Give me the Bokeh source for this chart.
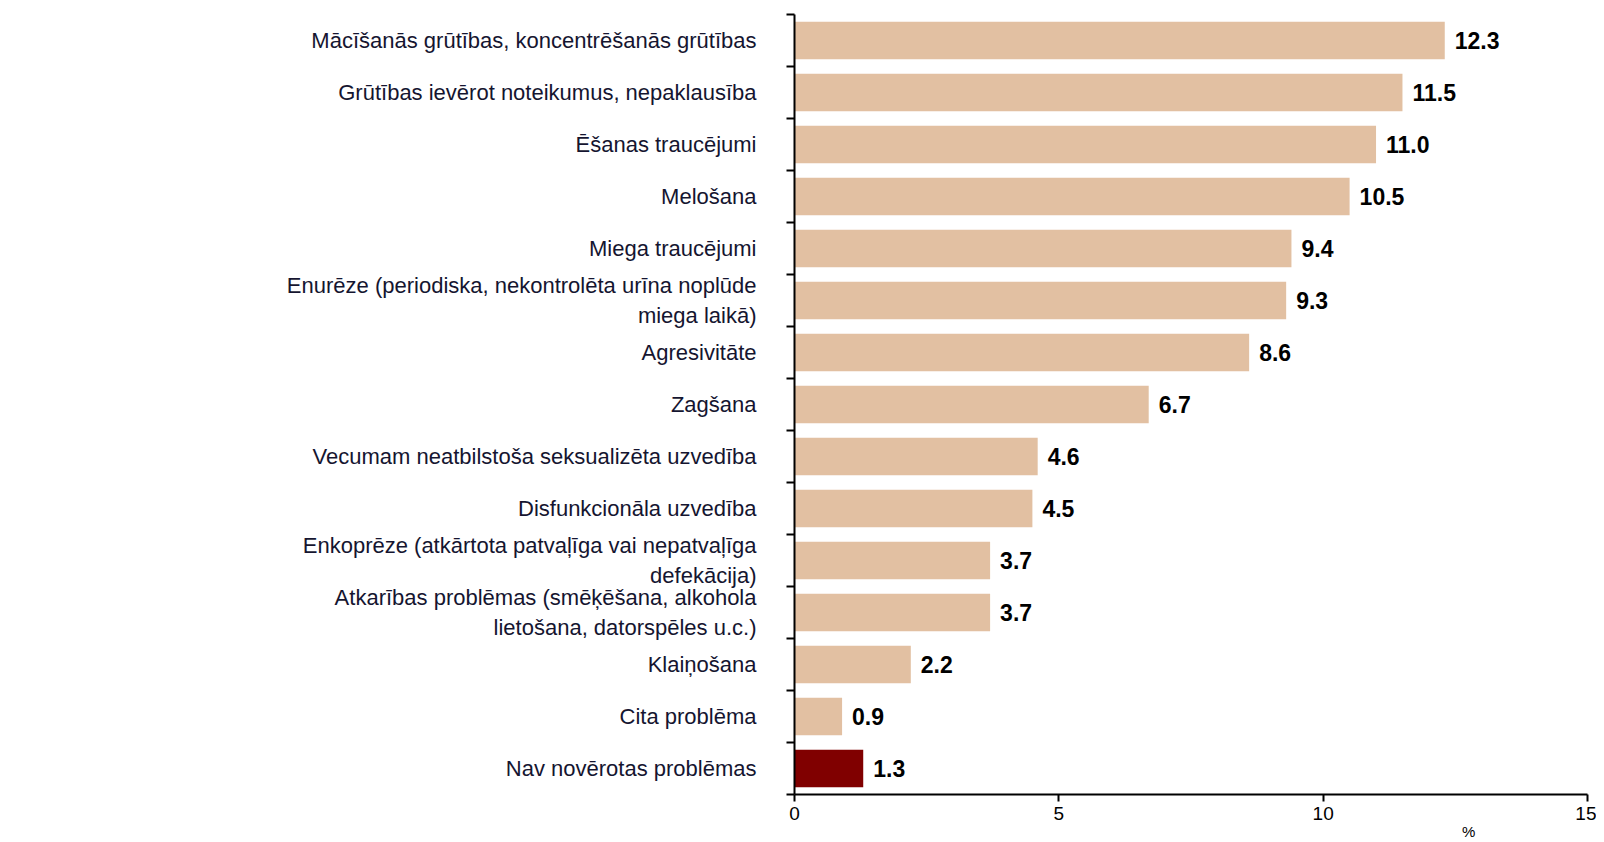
from bokeh.plotting import figure
from bokeh.models import Range1d, FixedTicker, LinearAxis, ColumnDataSource
from bokeh.core.properties import value
from bokeh.embed import file_html
from bokeh.resources import INLINE

categories = [
    "Mācīšanās grūtības, koncentrēšanās grūtības",
    "Grūtības ievērot noteikumus, nepaklausība",
    "Ēšanas traucējumi",
    "Melošana",
    "Miega traucējumi",
    "Enurēze (periodiska, nekontrolēta urīna noplūde\nmiega laikā)",
    "Agresivitāte",
    "Zagšana",
    "Vecumam neatbilstoša seksualizēta uzvedība",
    "Disfunkcionāla uzvedība",
    "Enkoprēze (atkārtota patvaļīga vai nepatvaļīga\ndefekācija)",
    "Atkarības problēmas (smēķēšana, alkohola\nlietošana, datorspēles u.c.)",
    "Klaiņošana",
    "Cita problēma",
    "Nav novērotas problēmas",
]
values = [12.3, 11.5, 11.0, 10.5, 9.4, 9.3, 8.6, 6.7, 4.6, 4.5, 3.7, 3.7, 2.2, 0.9, 1.3]
x_ticks = [0, 5, 10, 15]
axis_unit = "%"
unit_position = 12.75

n = len(categories)
centers = [n - i - 0.5 for i in range(n)]
bounds = list(range(0, n + 1))
colors = ["#E2C0A2"] * (n - 1) + ["#800000"]
labels = [f"{v:.1f}" for v in values]

src = ColumnDataSource(dict(y=centers, v=values, c=colors, t=labels))

p = figure(width=1596, height=842, output_backend="svg", toolbar_location=None,
           x_range=Range1d(0, 15), y_range=Range1d(0, n),
           min_border_left=794, min_border_right=9, min_border_top=14, min_border_bottom=48)
p.outline_line_color = None
p.xgrid.grid_line_color = None
p.ygrid.grid_line_color = None
p.background_fill_color = "white"

p.hbar(y="y", right="v", left=0, height=0.72, fill_color="c", line_color=None, source=src)
p.text(x="v", y="y", text="t", source=src, x_offset=10, text_baseline="middle",
       text_font=value("Liberation Sans"), text_font_style="bold", text_font_size="23px",
       text_color="#000000")

# x axis
xa = p.xaxis[0]
xa.ticker = FixedTicker(ticks=x_ticks)
xa.axis_line_color = "black"
xa.axis_line_width = 2
xa.major_tick_line_color = "black"
xa.major_tick_line_width = 2
xa.major_tick_out = 7
xa.major_tick_in = 0
xa.minor_tick_line_color = None
xa.major_label_text_font = "Liberation Sans"
xa.major_label_text_font_size = "19px"
xa.major_label_text_color = "#000000"
xa.major_label_standoff = 5

# unit label "%" under the axis, as the single tick label of a second, bare axis
ua = LinearAxis(ticker=FixedTicker(ticks=[unit_position]),
                major_label_overrides={unit_position: axis_unit})
ua.axis_line_color = None
ua.major_tick_line_color = None
ua.minor_tick_line_color = None
ua.major_tick_out = 0
ua.major_tick_in = 0
ua.major_label_standoff = 0
ua.major_label_text_font = "Liberation Sans"
ua.major_label_text_font_size = "15px"
ua.major_label_text_color = "#000000"
p.add_layout(ua, "below")

# y axis: labels at centers, minor ticks at boundaries
ya = p.yaxis[0]
ya.ticker = FixedTicker(ticks=centers, minor_ticks=bounds)
ya.major_label_overrides = {c: lab for c, lab in zip(centers, categories)}
ya.axis_line_color = "black"
ya.axis_line_width = 2
ya.major_tick_line_color = None
ya.major_tick_out = 0
ya.major_tick_in = 0
ya.minor_tick_line_color = "black"
ya.minor_tick_line_width = 2
ya.minor_tick_out = 8
ya.minor_tick_in = 0
ya.major_label_text_font = "Liberation Sans"
ya.major_label_text_font_size = "22px"
ya.major_label_text_color = "#151530"
ya.major_label_standoff = 30

open("out.html", "w").write(file_html(p, INLINE))
